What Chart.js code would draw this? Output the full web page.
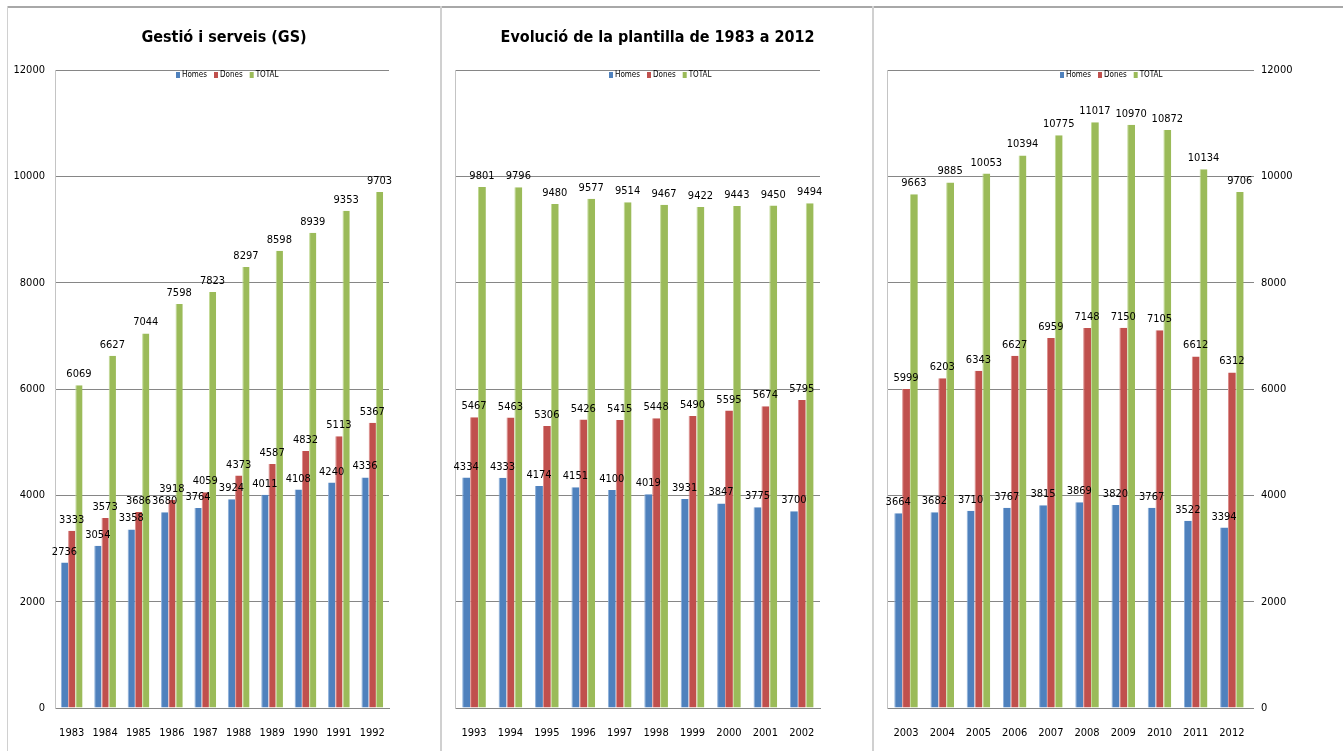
<!DOCTYPE html>
<html>
<head>
<meta charset="utf-8">
<title>Evolució de la plantilla</title>
<script src="https://cdn.jsdelivr.net/npm/chart.js@4.4.1/dist/chart.umd.min.js"></script>
<style>
  body { margin: 0; background: #fff; width: 1343px; height: 751px; overflow: hidden; position: relative; }
  .panel { position: absolute; top: 8px; }
  .rule { position: absolute; background: #d0d0d0; }
</style>
</head>
<body>
<div class="rule" style="left:7px;top:6px;width:1336px;height:2px;background:#a8a8a8"></div>
<div class="rule" style="left:7px;top:6px;width:1px;height:745px"></div>
<div class="rule" style="left:440px;top:6px;width:2px;height:745px"></div>
<div class="rule" style="left:872px;top:6px;width:2px;height:745px"></div>

<div class="panel" style="left:8px"><canvas id="gs1" width="432" height="743"></canvas></div>
<div class="panel" style="left:442px"><canvas id="gs2" width="431" height="743"></canvas></div>
<div class="panel" style="left:874px"><canvas id="gs3" width="469" height="743"></canvas></div>

<script>
// series
const seriesNames = ['Homes', 'Dones', 'TOTAL'];
const seriesColors = ['#4F81BD', '#C0504D', '#9BBB59'];
const edgeColors = ['#8db0da', '#dc8f8d', '#c2da96'];

// 1983 - 1992
const years1 = ['1983', '1984', '1985', '1986', '1987', '1988', '1989', '1990', '1991', '1992'];
const homes1 = [2736, 3054, 3358, 3680, 3764, 3924, 4011, 4108, 4240, 4336];
const dones1 = [3333, 3573, 3686, 3918, 4059, 4373, 4587, 4832, 5113, 5367];
const total1 = [6069, 6627, 7044, 7598, 7823, 8297, 8598, 8939, 9353, 9703];

// 1993 - 2002
const years2 = ['1993', '1994', '1995', '1996', '1997', '1998', '1999', '2000', '2001', '2002'];
const homes2 = [4334, 4333, 4174, 4151, 4100, 4019, 3931, 3847, 3775, 3700];
const dones2 = [5467, 5463, 5306, 5426, 5415, 5448, 5490, 5595, 5674, 5795];
const total2 = [9801, 9796, 9480, 9577, 9514, 9467, 9422, 9443, 9450, 9494];

// 2003 - 2012
const years3 = ['2003', '2004', '2005', '2006', '2007', '2008', '2009', '2010', '2011', '2012'];
const homes3 = [3664, 3682, 3710, 3767, 3815, 3869, 3820, 3767, 3522, 3394];
const dones3 = [5999, 6203, 6343, 6627, 6959, 7148, 7150, 7105, 6612, 6312];
const total3 = [9663, 9885, 10053, 10394, 10775, 11017, 10970, 10872, 10134, 9706];

const yMin = 0, yMax = 12000, yStep = 2000;

const narrow = "'Liberation Sans Narrow', 'DejaVu Sans Condensed', 'Arial Narrow', sans-serif";
Chart.defaults.font.family = narrow;
Chart.defaults.color = '#000';

const gridColor = '#868686';
const axisColor = '#c4c4c4';

// value above every bar
const valueLabels = {
  id: 'valueLabels',
  afterDatasetsDraw(chart) {
    const ctx = chart.ctx;
    ctx.save();
    ctx.font = '11px ' + narrow;
    ctx.fillStyle = '#000';
    ctx.textAlign = 'center';
    ctx.textBaseline = 'alphabetic';
    chart.data.datasets.forEach((ds, i) => {
      chart.getDatasetMeta(i).data.forEach((bar, j) => {
        ctx.fillText(ds.data[j], bar.x, bar.y - 8);
      });
    });
    ctx.restore();
  }
};

// small legend sitting on the top gridline, centred on the canvas
const topLegend = {
  id: 'topLegend',
  afterDraw(chart) {
    const ctx = chart.ctx;
    ctx.save();
    ctx.font = '8px ' + narrow;
    const boxW = 4, boxH = 6, gap = 2, space = 7;
    const items = chart.data.datasets.map(ds => ({
      text: ds.label, color: ds.backgroundColor, w: ctx.measureText(ds.label).width
    }));
    const total = items.reduce((s, it) => s + boxW + gap + it.w, 0) + space * (items.length - 1);
    let x = Math.round((chart.width - total) / 2) + 3;
    const y = chart.chartArea.top + 5;
    ctx.textAlign = 'left';
    ctx.textBaseline = 'middle';
    items.forEach(it => {
      ctx.fillStyle = it.color;
      ctx.fillRect(x, y - boxH / 2, boxW, boxH);
      x += boxW + gap;
      ctx.fillStyle = '#000';
      ctx.fillText(it.text, x, y);
      x += it.w + space;
    });
    ctx.restore();
  }
};

function makeDatasets(homes, dones, total) {
  return [homes, dones, total].map((values, i) => ({
    label: seriesNames[i],
    data: values,
    backgroundColor: seriesColors[i],
    borderColor: edgeColors[i],
    borderWidth: { left: 1, top: 0, right: 0, bottom: 0 },
    categoryPercentage: 0.65,
    barPercentage: 1
  }));
}

function xScale() {
  return {
    grid: { display: false, drawTicks: false },
    border: { color: gridColor },
    ticks: { font: { size: 11 }, padding: 19, maxRotation: 0 },
    afterFit: s => { s.height = 43; }
  };
}

// empty axis used only to reserve a strip beside the plot
function spacer(position, width, showLine) {
  return {
    position: position,
    min: yMin, max: yMax,
    ticks: { display: false },
    grid: { display: false, drawTicks: false },
    border: { display: showLine, color: axisColor },
    afterFit: s => { s.width = width; }
  };
}

function makeChart(id, labels, homes, dones, total, title, padTop, yScales) {
  return new Chart(document.getElementById(id), {
    type: 'bar',
    data: { labels: labels, datasets: makeDatasets(homes, dones, total) },
    options: {
      responsive: false,
      animation: false,
      layout: { padding: { left: 0, right: 0, top: padTop, bottom: 0 } },
      plugins: {
        legend: { display: false },
        tooltip: { enabled: false },
        title: {
          display: !!title,
          text: title,
          color: '#000',
          font: { size: 16, weight: 'bold' },
          lineHeight: 1.2,
          padding: { top: 20, bottom: 22.8 }
        }
      },
      scales: Object.assign({ x: xScale() }, yScales)
    },
    plugins: [valueLabels, topLegend]
  });
}

const tickText = v => String(v);

// left panel: axis labels on the left
makeChart('gs1', years1, homes1, dones1, total1, 'Gestió i serveis (GS)', 0, {
  y: {
    min: yMin, max: yMax,
    ticks: { stepSize: yStep, font: { size: 11 }, padding: 10, callback: tickText },
    grid: { color: gridColor, drawTicks: false },
    border: { color: axisColor },
    afterFit: s => { s.width = 47; }
  },
  yr: spacer('right', 51, false)
});

// middle panel: gridlines only
makeChart('gs2', years2, homes2, dones2, total2, 'Evolució de la plantilla de 1983 a 2012', 0, {
  y: {
    min: yMin, max: yMax,
    ticks: { stepSize: yStep, display: false },
    grid: { color: gridColor, drawTicks: false },
    border: { color: axisColor },
    afterFit: s => { s.width = 9; }
  },
  yr: spacer('right', 53, false)
});

// right panel: axis labels on the right, plain line on the left
makeChart('gs3', years3, homes3, dones3, total3, '', 62, {
  y: {
    position: 'right',
    min: yMin, max: yMax,
    ticks: { stepSize: yStep, font: { size: 11 }, padding: 7, callback: tickText },
    grid: { color: gridColor, drawTicks: true, tickLength: 4 },
    border: { display: false },
    afterFit: s => { s.width = 93; }
  },
  yl: spacer('left', 9, true)
});
</script>
</body>
</html>
